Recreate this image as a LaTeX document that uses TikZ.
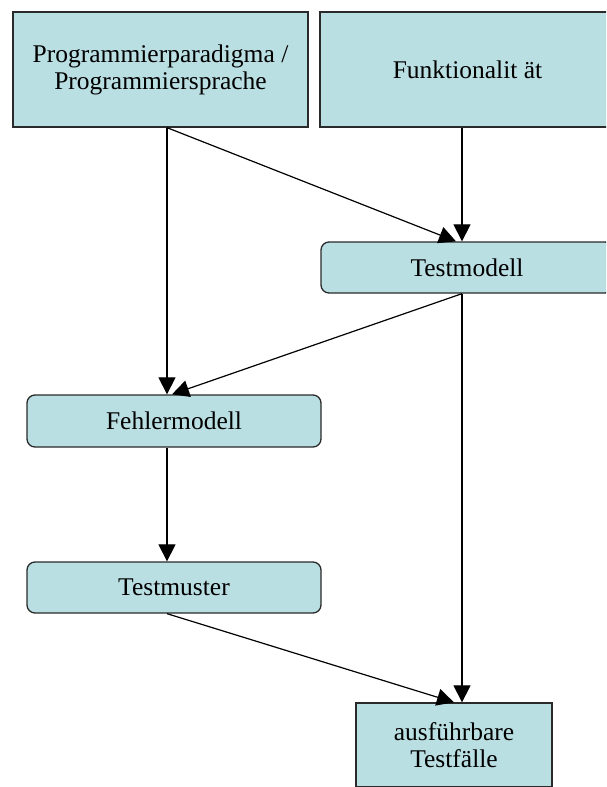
\documentclass[tikz,border=0pt]{standalone}
\usepackage{fontspec}
\setmainfont{Liberation Serif}
\usetikzlibrary{arrows.meta}
\definecolor{boxfill}{HTML}{BADFE3}
\definecolor{boxline}{HTML}{2A2A2A}
\tikzset{
  sqbox/.style={draw=boxline, line width=1.3pt, fill=boxfill, align=center,
    inner sep=0pt, font=\fontsize{25.5}{27}\selectfont},
  rdbox/.style={sqbox, rounded corners=8pt},
  arr/.style={-{Triangle[length=17pt,width=17pt]}, line width=1.2pt, black},
}
\begin{document}
\begin{tikzpicture}[x=1pt,y=-1pt]
  \useasboundingbox (0,0) rectangle (606,787);
  \clip (0,0) rectangle (606,787);
  \fill[white] (0,0) rectangle (606,787);

  % source boxes
  \node[sqbox, minimum width=295pt, minimum height=115pt] (par) at (160.5,69.5)
    {Programmierparadigma /\\Programmiersprache};
  \node[sqbox, minimum width=295pt, minimum height=115pt] (fun) at (467.5,69.5)
    {Funktionalit ät};

  % models
  \node[rdbox, minimum width=292pt, minimum height=51pt] (tmod) at (467,267.5) {Testmodell};
  \node[rdbox, minimum width=294pt, minimum height=52pt] (fmod) at (174,421) {Fehlermodell};
  \node[rdbox, minimum width=294pt, minimum height=51pt] (tmus) at (174,587.5) {Testmuster};

  % result
  \node[sqbox, minimum width=196pt, minimum height=84pt] (fall) at (454,745)
    {ausführbare\\Testfälle};

  % connectors
  \draw[arr] ([xshift=6.5pt]par.south) -- ([xshift=-7pt]fmod.north);
  \draw[arr] ([xshift=6.5pt]par.south) -- ([xshift=-11pt]tmod.north);
  \draw[arr] ([xshift=-5.5pt]fun.south) -- ([xshift=-5pt]tmod.north);
  \draw[arr] ([xshift=-5pt]tmod.south) -- ([xshift=-2pt]fmod.north);
  \draw[arr] ([xshift=-5pt]tmod.south) -- ([xshift=8pt]fall.north);
  \draw[arr] ([xshift=-7pt]fmod.south) -- ([xshift=-7pt]tmus.north);
  \draw[arr] ([xshift=-7pt]tmus.south) -- ([xshift=0pt]fall.north);
\end{tikzpicture}
\end{document}
